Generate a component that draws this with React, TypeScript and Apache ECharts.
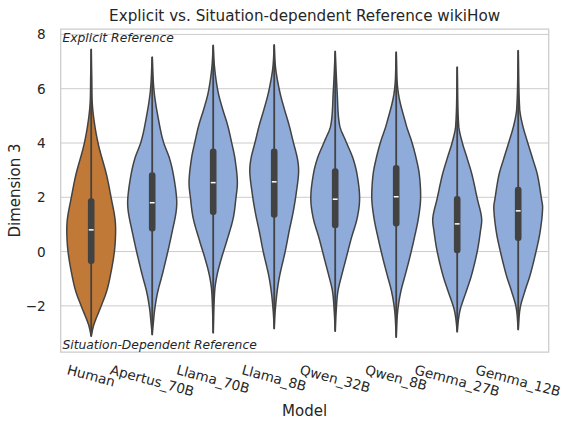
import React, { useEffect, useRef } from "react";
import * as echarts from "echarts";

const FONT = "DejaVu Sans";
const TEXT = "#262626";
const LINE = "#424242";

const models = ["Human", "Apertus_70B", "Llama_70B", "Llama_8B", "Qwen_32B", "Qwen_8B", "Gemma_27B", "Gemma_12B"];
const yTicks = [-2, 0, 2, 4, 6, 8];

// density profiles: [value, relative density]
const humanDensity = [[7.45, 0], [6.5, 0.02], [5.27, 0.06], [4.04, 0.27], [2.82, 0.63], [1.97, 0.82], [1.24, 0.97], [0.74, 1.0], [0, 0.95], [-0.86, 0.79], [-1.47, 0.63], [-2.07, 0.38], [-2.69, 0.11], [-3.12, 0]];
const apertusDensity = [[7.17, 0], [5.88, 0.08], [4.66, 0.3], [4.04, 0.46], [3.43, 0.71], [2.82, 0.87], [1.96, 1.0], [1.47, 0.98], [0.74, 0.82], [0, 0.64], [-0.86, 0.41], [-1.47, 0.23], [-2.08, 0.11], [-2.69, 0.04], [-3.06, 0]];
const llama70Density = [[7.6, 0], [6.74, 0.06], [5.88, 0.2], [5.27, 0.38], [4.66, 0.59], [4.04, 0.75], [3.43, 0.89], [2.57, 0.99], [1.96, 0.93], [1.23, 0.82], [0.37, 0.55], [-0.24, 0.34], [-0.86, 0.16], [-1.47, 0.06], [-3.0, 0]];
const llama8Density = [[7.62, 0], [6.74, 0.06], [5.88, 0.23], [5.27, 0.41], [4.66, 0.61], [4.04, 0.78], [3.43, 0.95], [2.94, 1.0], [2.2, 0.91], [1.47, 0.78], [0.74, 0.61], [0, 0.45], [-0.86, 0.23], [-1.47, 0.12], [-2.2, 0.04], [-2.84, 0]];
const qwen32Density = [[7.38, 0], [5.88, 0.08], [4.66, 0.18], [4.04, 0.45], [3.43, 0.73], [2.82, 0.9], [1.96, 1.0], [1.23, 0.9], [0.49, 0.66], [-0.24, 0.45], [-0.86, 0.27], [-1.47, 0.11], [-2.2, 0.04], [-2.94, 0]];
const qwen8Density = [[7.35, 0], [5.88, 0.08], [4.66, 0.41], [4.04, 0.64], [3.43, 0.82], [2.82, 0.95], [1.96, 1.0], [1.23, 0.91], [0.49, 0.74], [-0.24, 0.55], [-0.86, 0.37], [-1.47, 0.19], [-2.2, 0.06], [-3.16, 0]];
const gemma27Density = [[6.8, 0], [4.66, 0.06], [4.04, 0.2], [3.43, 0.41], [2.82, 0.61], [1.96, 0.82], [1.23, 1.0], [0.74, 0.95], [0, 0.82], [-0.86, 0.59], [-1.47, 0.37], [-2.08, 0.14], [-2.45, 0.06], [-2.96, 0]];
const gemma12Density = [[7.41, 0], [5.27, 0.06], [4.66, 0.18], [4.04, 0.38], [3.43, 0.59], [2.82, 0.79], [1.96, 0.95], [1.6, 1.0], [0.74, 0.9], [0, 0.73], [-0.86, 0.49], [-1.47, 0.27], [-2.08, 0.08], [-2.88, 0]];

const densities = [humanDensity, apertusDensity, llama70Density, llama8Density, qwen32Density, qwen8Density, gemma27Density, gemma12Density];

const q1 = [-0.46, 0.74, 1.35, 1.25, 0.86, 0.92, -0.06, 0.39];
const medians = [0.8, 1.8, 2.54, 2.57, 1.93, 2.02, 1.02, 1.5];
const q3 = [1.96, 2.92, 3.8, 3.8, 3.07, 3.19, 2.05, 2.39];

const fills = ["#c17937", "#8fabd9", "#8fabd9", "#8fabd9", "#8fabd9", "#8fabd9", "#8fabd9", "#8fabd9"];

function smoothProfile(pts: number[][]): number[][] {
  // pts: [y(px, ascending), w]
  const n = pts.length;
  const m: number[] = [];
  for (let i = 0; i < n; i++) {
    const a = pts[Math.max(0, i - 1)];
    const b = pts[Math.min(n - 1, i + 1)];
    m.push((b[1] - a[1]) / (b[0] - a[0] || 1));
  }
  const out: number[][] = [];
  for (let i = 0; i < n - 1; i++) {
    const [y1, w1] = pts[i];
    const [y2, w2] = pts[i + 1];
    const dy = y2 - y1;
    const steps = 12;
    for (let s = 0; s < steps; s++) {
      const t = s / steps;
      const t2 = t * t, t3 = t2 * t;
      const h00 = 2 * t3 - 3 * t2 + 1;
      const h10 = t3 - 2 * t2 + t;
      const h01 = -2 * t3 + 3 * t2;
      const h11 = t3 - t2;
      const w = h00 * w1 + h10 * dy * m[i] + h01 * w2 + h11 * dy * m[i + 1];
      out.push([y1 + dy * t, Math.max(0, w)]);
    }
  }
  out.push(pts[n - 1]);
  return out;
}

export default function App() {
  const ref = useRef<HTMLDivElement>(null);
  useEffect(() => {
    document.body.style.margin = "0";
    if (!ref.current) return;
    const chart = echarts.init(ref.current, null, { renderer: "svg" });
    const option: any = {
      animation: false,
      backgroundColor: "#ffffff",
      grid: { left: 60.7, right: 19.3, top: 29, bottom: 74, show: true, borderColor: "#cccccc", borderWidth: 1.25, backgroundColor: "transparent" },
      xAxis: {
        type: "category",
        data: models,
        boundaryGap: true,
        axisLine: { show: false },
        axisTick: { show: false },
        axisLabel: { show: false },
        splitLine: { show: false },
      },
      yAxis: {
        type: "value",
        min: -3.7,
        max: 8.2,
        axisLine: { show: false },
        axisTick: { show: false, customValues: yTicks },
        splitLine: { show: false },
        axisLabel: {
          customValues: yTicks,
          formatter: (v: number) => (v < 0 ? "\u2212" + Math.abs(v) : String(v)),
          fontSize: 13.6,
          fontFamily: FONT,
          color: TEXT,
          margin: 15,
        },
      },
      series: [
        {
          type: "custom",
          z: 1,
          silent: true,
          data: yTicks.map((v) => [0, v]),
          encode: { x: 0, y: 1 },
          renderItem: (params: any, api: any) => {
            const cs = params.coordSys;
            const y = api.coord([0, api.value(1)])[1];
            return {
              type: "line",
              shape: { x1: cs.x, y1: y, x2: cs.x + cs.width, y2: y },
              style: { stroke: "#cccccc", lineWidth: 1 },
            };
          },
        },
        {
          type: "custom",
          z: 3,
          silent: true,
          data: models.map((_, i) => [i, medians[i]]),
          encode: { x: 0, y: 1 },
          renderItem: (params: any, api: any) => {
            const i = api.value(0);
            const prof = densities[i];
            const cx = api.coord([i, 0])[0];
            const band = api.size([1, 0])[0];
            const maxHw = band * 0.4;
            const pts = prof.map(([v, d]) => [api.coord([i, v])[1], d * maxHw]);
            const sm = smoothProfile(pts);
            const right = sm.map(([y, w]) => [cx + w, y]);
            const left = sm.slice().reverse().map(([y, w]) => [cx - w, y]);
            const yTop = pts[0][0];
            const yBot = pts[pts.length - 1][0];
            const yq3 = api.coord([i, q3[i]])[1];
            const yq1 = api.coord([i, q1[i]])[1];
            const ym = api.coord([i, medians[i]])[1];
            return {
              type: "group",
              children: [
                { type: "polygon", shape: { points: right.concat(left) }, style: { fill: fills[i], stroke: LINE, lineWidth: 1.5, lineJoin: "round" } },
                { type: "line", shape: { x1: cx, y1: yTop, x2: cx, y2: yBot }, style: { stroke: LINE, lineWidth: 1.8 } },
                { type: "rect", shape: { x: cx - 3.3, y: yq3, width: 6.6, height: yq1 - yq3, r: 3 }, style: { fill: LINE } },
                { type: "line", shape: { x1: cx - 2.4, y1: ym, x2: cx + 2.4, y2: ym }, style: { stroke: "#ffffff", lineWidth: 1.5 } },
              ],
            };
          },
        },
      ],
      graphic: [
        { type: "text", x: 304.6, y: 16, style: { text: "Explicit vs. Situation-dependent Reference wikiHow", fontSize: 15.2, fontFamily: FONT, fill: TEXT, textAlign: "center", textVerticalAlign: "middle" } },
        { type: "text", x: 14.5, y: 190.5, rotation: Math.PI / 2, style: { text: "Dimension 3", fontSize: 15, fontFamily: FONT, fill: TEXT, textAlign: "center", textVerticalAlign: "middle" } },
        { type: "text", x: 304.6, y: 411, style: { text: "Model", fontSize: 15, fontFamily: FONT, fill: TEXT, textAlign: "center", textVerticalAlign: "middle" } },
        { type: "text", x: 62.5, y: 37.5, z: 10, style: { text: "Explicit Reference", fontSize: 12.3, fontStyle: "italic", fontFamily: FONT, fill: TEXT, textAlign: "left", textVerticalAlign: "middle" } },
        { type: "text", x: 62.5, y: 344.5, z: 10, style: { text: "Situation-Dependent Reference", fontSize: 12.3, fontStyle: "italic", fontFamily: FONT, fill: TEXT, textAlign: "left", textVerticalAlign: "middle" } },
      ],
    };
    chart.setOption(option);

    // x tick labels rotated -15deg, centred under each category (matplotlib style)
    const canvas = document.createElement("canvas");
    const ctx = canvas.getContext("2d");
    const fs = 13.6;
    if (ctx) ctx.font = `${fs}px "${FONT}"`;
    const ang = (15 * Math.PI) / 180;
    const labelTop = 361.5;
    const labels = models.map((m, i) => {
      const x = chart.convertToPixel({ xAxisIndex: 0 }, i) as number;
      const w = ctx ? ctx.measureText(m).width : m.length * fs * 0.6;
      const h = fs * 1.164;
      const bh = w * Math.sin(ang) + h * Math.cos(ang);
      return {
        type: "text",
        x,
        y: labelTop + bh / 2,
        rotation: -ang,
        style: { text: m, fontSize: fs, fontFamily: FONT, fill: TEXT, textAlign: "center", textVerticalAlign: "middle" },
      };
    });
    chart.setOption({ graphic: [...option.graphic, ...labels] });

    return () => chart.dispose();
  }, []);
  return <div ref={ref} style={{ width: 568, height: 426 }} />;
}
